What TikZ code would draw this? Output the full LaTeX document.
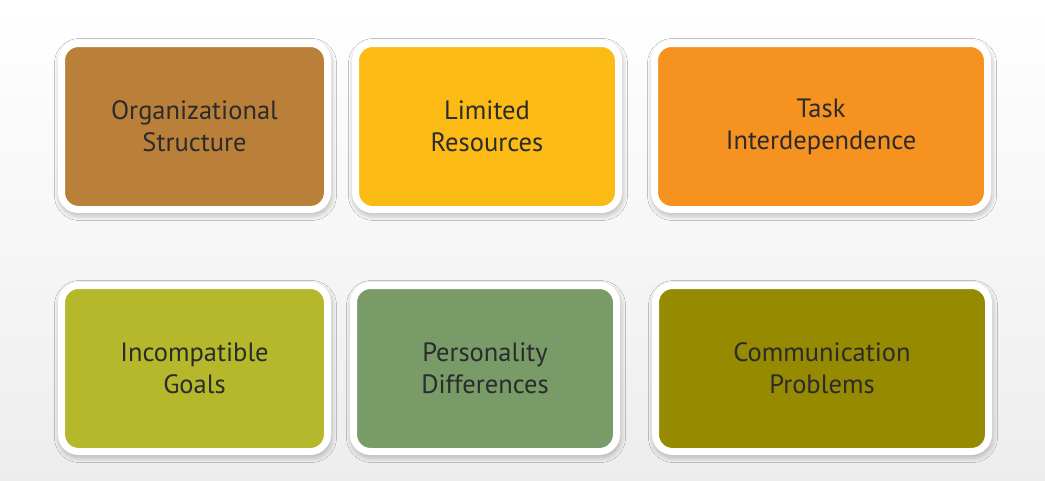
\documentclass[tikz,border=0pt]{standalone}
\usepackage{fontspec}
\setmainfont{PT Sans}
\usepackage{xcolor}
\usetikzlibrary{shadows.blur}

\definecolor{orgbrown}{HTML}{BA803A}
\definecolor{resyellow}{HTML}{FBBA14}
\definecolor{taskorange}{HTML}{F6921F}
\definecolor{goalgreen}{HTML}{B5B82A}
\definecolor{persgreen}{HTML}{789B68}
\definecolor{commolive}{HTML}{958A00}
\definecolor{textgray}{HTML}{2B2B2B}

\tikzset{
  cause/.style={draw=white, line width=7pt, rounded corners=17pt,
    minimum height=166pt, align=center, text=textgray,
    font=\fontsize{26.5}{32}\selectfont,
    blur shadow={shadow xshift=1pt, shadow yshift=-3pt, shadow blur steps=10,
      shadow opacity=45, shadow blur radius=8pt}}
}

\begin{document}
\begin{tikzpicture}[x=1pt,y=-1pt]
    \shade[top color=white, bottom color=gray!14] (0,0) rectangle (1045,480);
    \useasboundingbox (0,0) rectangle (1045,480);

    \node[cause, fill=orgbrown, minimum width=266pt] (orgstruct) at (194.5,126.5) {Organizational\\Structure};
    \node[cause, fill=resyellow, minimum width=263pt] (limres) at (487,126.5) {Limited\\Resources};
    \node[cause, fill=taskorange, minimum width=333pt] (taskdep) at (821,126.5) {Task\\Interdependence};

    \node[cause, fill=goalgreen, minimum width=266pt] (incgoals) at (194.5,368.5) {Incompatible\\Goals};
    \node[cause, fill=persgreen, minimum width=263pt] (persdiff) at (485,368.5) {Personality\\Differences};
    \node[cause, fill=commolive, minimum width=333pt] (commprob) at (822,368.5) {Communication\\Problems};
\end{tikzpicture}
\end{document}
